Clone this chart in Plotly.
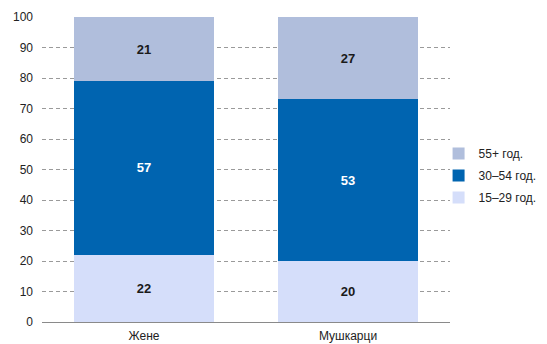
import plotly.graph_objects as go

categories = ["Жене", "Мушкарци"]
series_names = ["15–29 год.", "30–54 год.", "55+ год."]
v_15_29 = [22, 20]
v_30_54 = [57, 53]
v_55 = [21, 27]
colors = ["#d5defa", "#0064b0", "#b0bedc"]
text_colors = ["#1a1a1a", "#ffffff", "#1a1a1a"]

fig = go.Figure()
for i, (name, vals, c, tc) in enumerate(zip(series_names, [v_15_29, v_30_54, v_55], colors, text_colors)):
    fig.add_trace(go.Bar(
        x=categories, y=vals, name=name, marker=dict(color=c, line=dict(width=0)),
        legendgroup=f"g{i}", legendrank=1000 - i,
        text=[str(v) for v in vals], textposition="inside", insidetextanchor="middle",
        textfont=dict(family="Liberation Sans, Arial", size=13, color=tc),
        texttemplate="<b>%{text}</b>", hoverinfo="skip",
    ))

fig.update_layout(
    barmode="stack", bargap=0.314,
    width=547, height=344,
    margin=dict(l=42, r=97, t=17, b=22, autoexpand=False),
    plot_bgcolor="white", paper_bgcolor="white",
    font=dict(family="Liberation Sans, Arial", size=12, color="#222222"),
    legend=dict(x=0.972, y=0.48, xanchor="left", yanchor="middle", traceorder="grouped",
                font=dict(size=12, color="#222222"), itemwidth=30, tracegroupgap=3,
                bgcolor="rgba(0,0,0,0)"),
    uniformtext=dict(minsize=8, mode="show"),
)
fig.update_yaxes(range=[0, 100], dtick=10, showgrid=True, gridcolor="#9a9a9a", griddash="4px,3px",
                 gridwidth=1, zeroline=False, showline=False, ticks="", ticklabelstandoff=8,
                 tickfont=dict(size=12, color="#222222"))
fig.update_xaxes(showline=True, linecolor="#8a8a8a", linewidth=1, ticks="", showgrid=False,
                 ticklabelstandoff=3, tickfont=dict(size=12, color="#222222"))

fig.write_html("out.html")
